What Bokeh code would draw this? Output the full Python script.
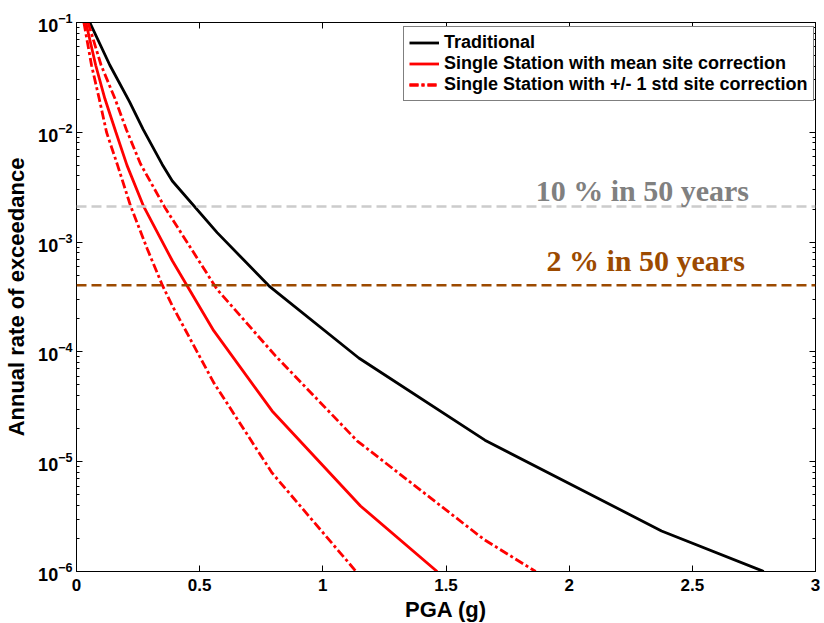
from bokeh.plotting import figure
from bokeh.models import (FixedTicker, LinearAxis, LogAxis, Span, Label, Legend,
                          LegendItem, Range1d, LogTickFormatter)
from bokeh.embed import file_html
from bokeh.resources import INLINE

# ---- data ----
pga_trad = [0.054, 0.135, 0.215, 0.27, 0.348, 0.389, 0.571, 0.781, 1.146, 1.658, 2.375, 2.79]
rate_trad = [1e-1, 4.1e-2, 1.9e-2, 1.07e-2, 5.1e-3, 3.6e-3, 1.22e-3, 4.0e-4, 8.8e-5, 1.57e-5, 2.34e-6, 1e-6]

pga_mean = [0.038, 0.078, 0.115, 0.16, 0.205, 0.271, 0.389, 0.557, 0.794, 1.153, 1.464]
rate_mean = [1e-1, 4.08e-2, 2.03e-2, 1e-2, 5.0e-3, 2.15e-3, 6.76e-4, 1.56e-4, 2.9e-5, 3.95e-6, 1e-6]

pga_plus = [0.047, 0.1, 0.156, 0.203, 0.26, 0.354, 0.389, 0.571, 0.808, 1.139, 1.654, 1.864]
rate_plus = [1e-1, 4.08e-2, 2.03e-2, 1.05e-2, 5.15e-3, 2.15e-3, 1.62e-3, 3.7e-4, 9.2e-5, 1.55e-5, 1.96e-6, 1e-6]

pga_minus = [0.03, 0.061, 0.092, 0.122, 0.165, 0.219, 0.287, 0.348, 0.389, 0.557, 0.794, 1.135]
rate_minus = [1e-1, 4.08e-2, 2.03e-2, 1e-2, 5.15e-3, 2.15e-3, 8.7e-4, 4.07e-4, 2.63e-4, 5.25e-5, 7.9e-6, 1e-6]

hazard_10in50 = 2.107e-3
hazard_2in50 = 4.04e-4

x_ticks = [0, 0.5, 1, 1.5, 2, 2.5, 3]
x_tick_labels = ["0", "0.5", "1", "1.5", "2", "2.5", "3"]
y_ticks = [1e-6, 1e-5, 1e-4, 1e-3, 1e-2, 1e-1]
y_minor = [m * 10.0 ** e for e in range(-6, -1) for m in range(2, 10)]

legend_labels = ["Traditional", "Single Station with mean site correction",
                 "Single Station with +/- 1 std site correction"]

FONT = "Liberation Sans"
RED = "#FF0000"
GRAY_LINE = "#CCCCCC"
GRAY_TEXT = "#808080"
BROWN = "#9C4A00"
LW = 2.8
DASHDOT = "9 3 3 3"

p = figure(frame_width=739, frame_height=549,
           x_range=Range1d(0, 3), y_range=Range1d(1e-6, 1e-1),
           y_axis_type="log", output_backend="svg", toolbar_location=None,
           min_border_left=76, min_border_right=9, min_border_top=22,
           min_border_bottom=50, outline_line_color="black",
           background_fill_color="white", border_fill_color="white")
p.xgrid.visible = False
p.ygrid.visible = False

xt = FixedTicker(ticks=x_ticks, minor_ticks=[])
yt = FixedTicker(ticks=y_ticks, minor_ticks=y_minor)


def style(ax, labels=True):
    ax.axis_line_color = "black"
    ax.major_tick_in = 6
    ax.major_tick_out = 0
    ax.minor_tick_in = 3
    ax.minor_tick_out = 0
    ax.major_tick_line_color = "black"
    ax.minor_tick_line_color = "black"
    ax.major_label_text_font = FONT
    ax.major_label_text_font_style = "bold"
    ax.major_label_text_color = "black"
    ax.axis_label_text_font = FONT
    ax.axis_label_text_font_style = "bold"
    ax.axis_label_text_color = "black"
    ax.axis_label_text_font_size = "22px"
    ax.major_label_text_font_size = "17px"
    if not labels:
        ax.major_label_text_color = None
        ax.major_label_text_font_size = "6px"
        ax.major_label_standoff = 0


xa = p.xaxis[0]
xa.ticker = xt
xa.major_label_overrides = dict(zip(x_ticks, x_tick_labels))
xa.axis_label = "PGA (g)"
style(xa)
xa.major_label_standoff = 7
xa.axis_label_standoff = 3

ya = p.yaxis[0]
ya.ticker = yt
ya.formatter = LogTickFormatter()
ya.axis_label = "Annual rate of exceedance"
style(ya)
ya.major_label_text_font_size = "18px"
ya.major_label_standoff = 4
ya.axis_label_standoff = 6

top = LinearAxis(ticker=xt)
style(top, labels=False)
p.add_layout(top, "above")
right = LogAxis(ticker=yt)
style(right, labels=False)
p.add_layout(right, "right")

r_trad = p.line(pga_trad, rate_trad, line_color="black", line_width=LW)
r_mean = p.line(pga_mean, rate_mean, line_color=RED, line_width=LW)
r_plus = p.line(pga_plus, rate_plus, line_color=RED, line_width=LW, line_dash=DASHDOT)
r_minus = p.line(pga_minus, rate_minus, line_color=RED, line_width=LW, line_dash=DASHDOT)

p.add_layout(Span(location=hazard_10in50, dimension="width", line_color=GRAY_LINE,
                  line_width=2.5, line_dash="10 5"))
p.add_layout(Span(location=hazard_2in50, dimension="width", line_color=BROWN,
                  line_width=2.5, line_dash="10 5"))

p.add_layout(Label(x=1.864, y=2.94e-3, text="10 % in 50 years", text_font="Liberation Serif",
                   text_font_style="bold", text_font_size="30px", text_color=GRAY_TEXT,
                   text_baseline="alphabetic"))
p.add_layout(Label(x=1.908, y=6.76e-4, text="2 % in 50 years", text_font="Liberation Serif",
                   text_font_style="bold", text_font_size="30px", text_color=BROWN,
                   text_baseline="alphabetic"))

legend = Legend(items=[LegendItem(label=legend_labels[0], renderers=[r_trad]),
                       LegendItem(label=legend_labels[1], renderers=[r_mean]),
                       LegendItem(label=legend_labels[2], renderers=[r_plus, r_minus])],
                location=(327, 470))
legend.label_text_font = FONT
legend.label_text_font_style = "bold"
legend.label_text_font_size = "18px"
legend.label_text_color = "black"
legend.glyph_width = 30
legend.glyph_height = 21
legend.label_height = 21
legend.spacing = 0
legend.padding = 5
legend.margin = 0
legend.label_standoff = 5
legend.border_line_color = "black"
legend.border_line_width = 1
legend.background_fill_color = "white"
legend.background_fill_alpha = 1
p.add_layout(legend)

open("out.html", "w").write(file_html(p, INLINE))
